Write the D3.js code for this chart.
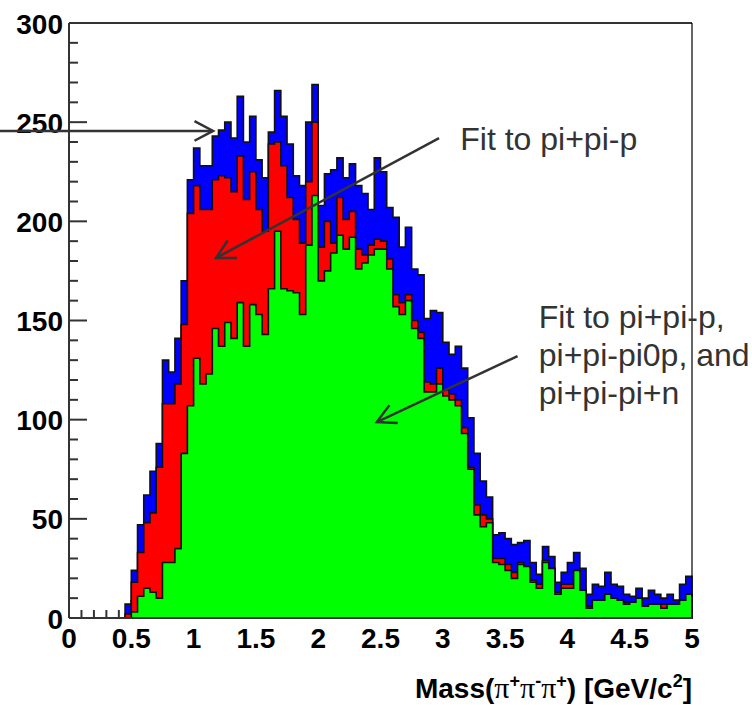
<!DOCTYPE html>
<html>
<head>
<meta charset="utf-8">
<script src="https://cdnjs.cloudflare.com/ajax/libs/d3/7.8.5/d3.min.js"></script>
<style>
  body { margin: 0; background: #fff; }
  svg { display: block; }
  text { font-family: "Liberation Sans", Arial, sans-serif; }
</style>
</head>
<body>
<div id="chart"></div>
<script>
// Chart size and frame
const width = 752;
const height = 705;
const frame = { left: 69, right: 692, top: 23, bottom: 618 };

// Histogram binning: 100 bins of 0.05 GeV/c2 from 0 to 5
const binWidth = 0.05;

// Counts per bin for each stacked component (bottom to top)
const greenCounts = [
  0, 0, 0, 0, 0, 0, 0, 0, 0, 0,
  3, 11, 15, 13, 10, 28, 28, 35, 83, 107,
  131, 118, 123, 146, 137, 149, 141, 159, 137, 158,
  153, 143, 166, 195, 166, 165, 164, 153, 188, 213,
  170, 175, 184, 193, 186, 192, 176, 179, 183, 186,
  186, 176, 157, 153, 160, 146, 141, 114, 114, 118,
  112, 110, 107, 93, 75, 52, 46, 48, 28, 27,
  24, 20, 27, 26, 18, 15, 28, 25, 12, 15,
  15, 24, 14, 5, 9, 9, 12, 10, 9, 7,
  8, 10, 6, 7, 7, 5, 7, 7, 9, 12
];
const redCounts = [
  0, 0, 0, 0, 0, 0, 0, 0, 0, 2,
  15, 22, 33, 40, 66, 80, 80, 83, 65, 97,
  87, 88, 83, 75, 86, 73, 74, 74, 74, 67,
  53, 52, 73, 45, 62, 47, 37, 36, 32, 37,
  17, 25, 5, 19, 15, 13, 10, 4, 5, 5,
  4, 5, 6, 6, 3, 4, 3, 5, 4, 8,
  3, 3, 3, 3, 1, 5, 6, 2, 2, 3,
  3, 3, 1, 0, 1, 2, 1, 0, 1, 2,
  2, 0, 0, 1, 0, 0, 0, 0, 0, 1,
  0, 0, 0, 0, 0, 2, 0, 0, 0, 0
];
const blueCounts = [
  0, 0, 0, 0, 0, 0, 0, 0, 0, 5,
  6, 14, 14, 21, 12, 22, 16, 23, 22, 17,
  19, 22, 22, 22, 23, 28, 27, 30, 29, 28,
  25, 27, 6, 26, 25, 27, 22, 29, 30, 19,
  21, 24, 37, 20, 21, 24, 32, 31, 18, 41,
  35, 26, 39, 28, 34, 26, 29, 32, 37, 28,
  24, 20, 27, 30, 25, 26, 17, 11, 12, 13,
  13, 14, 10, 13, 9, 5, 7, 6, 5, 6,
  11, 9, 11, 6, 8, 7, 11, 7, 7, 4,
  3, 5, 4, 7, 5, 3, 5, 2, 8, 9
];

const seriesKeys = ["green", "red", "blue"];
const seriesColors = { green: "#00ff00", red: "#ff0000", blue: "#0000ff" };

// Axes
const xDomain = [0, 5];
const yDomain = [0, 300];
const xMajorTicks = [0, 0.5, 1, 1.5, 2, 2.5, 3, 3.5, 4, 4.5, 5];
const xTickLabels = ["0", "0.5", "1", "1.5", "2", "2.5", "3", "3.5", "4", "4.5", "5"];
const yMajorTicks = [0, 50, 100, 150, 200, 250, 300];
const yTickLabels = ["0", "50", "100", "150", "200", "250", "300"];
const xMinorStep = 0.1;
const yMinorStep = 10;

// Annotations in data coordinates
const arrows = [
  { from: [-0.554, 245.6], to: [1.156, 245.6] },
  { from: [2.97, 242], to: [1.18, 181.5] },
  { from: [3.60, 132], to: [2.47, 98.8] }
];
const notes = [
  { x: 3.14, y: 236, lines: ["Fit to pi+pi-p"] },
  { x: 3.77, y: 146.2, lines: ["Fit to pi+pi-p,", "pi+pi-pi0p, and", "pi+pi-pi+n"] }
];

const x = d3.scaleLinear().domain(xDomain).range([frame.left, frame.right]);
const y = d3.scaleLinear().domain(yDomain).range([frame.bottom, frame.top]);

const svg = d3.select("#chart")
  .append("svg")
  .attr("width", width)
  .attr("height", height);

// tick marks (drawn under the histograms, as in the original)
const ticks = svg.append("g")
  .attr("stroke", "#333")
  .attr("stroke-width", 2);

const yMinor = d3.range(yDomain[0], yDomain[1] + 1, yMinorStep);
ticks.selectAll(".ytick")
  .data(yMinor)
  .enter()
  .append("line")
  .attr("x1", frame.left)
  .attr("x2", d => frame.left + (d % 50 === 0 ? 18 : 9))
  .attr("y1", d => y(d))
  .attr("y2", d => y(d));

const xMinor = d3.range(0, 51).map(i => i * xMinorStep);
ticks.selectAll(".xtick")
  .data(xMinor)
  .enter()
  .append("line")
  .attr("x1", d => x(d))
  .attr("x2", d => x(d))
  .attr("y1", frame.bottom)
  .attr("y2", (d, i) => frame.bottom - (i % 5 === 0 ? 18 : 8));

// stack the three components
const table = greenCounts.map((g, i) => ({
  x0: i * binWidth,
  green: g,
  red: redCounts[i],
  blue: blueCounts[i]
}));
const stacked = d3.stack().keys(seriesKeys)(table);

function stepPoints(layer) {
  const pts = [];
  layer.forEach(d => {
    pts.push([d.data.x0, d[1]]);
    pts.push([d.data.x0 + binWidth, d[1]]);
  });
  return pts;
}

const area = d3.area()
  .x(d => x(d[0]))
  .y0(y(0))
  .y1(d => y(d[1]));

// top of the stack first, then the lower sums over it
const hist = svg.append("g");
stacked.slice().reverse().forEach(layer => {
  hist.append("path")
    .datum(stepPoints(layer))
    .attr("d", area)
    .attr("fill", seriesColors[layer.key])
    .attr("stroke", "#111")
    .attr("stroke-width", 1.6)
    .attr("stroke-linejoin", "miter");
});

// frame
svg.append("line")
  .attr("x1", frame.left).attr("x2", frame.right)
  .attr("y1", frame.top).attr("y2", frame.top)
  .attr("stroke", "#333").attr("stroke-width", 2);
svg.append("line")
  .attr("x1", frame.right).attr("x2", frame.right)
  .attr("y1", frame.top).attr("y2", frame.bottom)
  .attr("stroke", "#000").attr("stroke-width", 1.2);
svg.append("line")
  .attr("x1", frame.left).attr("x2", frame.right)
  .attr("y1", frame.bottom).attr("y2", frame.bottom)
  .attr("stroke", "#333").attr("stroke-width", 2);
svg.append("line")
  .attr("x1", frame.left).attr("x2", frame.left)
  .attr("y1", frame.top).attr("y2", frame.bottom)
  .attr("stroke", "#333").attr("stroke-width", 2);

// tick labels
svg.selectAll(".ylabel")
  .data(yMajorTicks)
  .enter()
  .append("text")
  .attr("x", frame.left - 6)
  .attr("y", d => y(d) + 10.5)
  .attr("text-anchor", "end")
  .attr("font-size", "28px")
  .attr("font-weight", "bold")
  .attr("fill", "#000")
  .text((d, i) => yTickLabels[i]);

svg.selectAll(".xlabel")
  .data(xMajorTicks)
  .enter()
  .append("text")
  .attr("x", d => x(d))
  .attr("y", 648)
  .attr("text-anchor", "middle")
  .attr("font-size", "28px")
  .attr("font-weight", "bold")
  .attr("fill", "#000")
  .text((d, i) => xTickLabels[i]);

// x axis title
const title = svg.append("text")
  .attr("x", frame.right)
  .attr("y", 698)
  .attr("text-anchor", "end")
  .attr("font-size", "28px")
  .attr("font-weight", "bold")
  .attr("fill", "#000");
const pi = "\u03c0";
const titleParts = [
  { t: "Mass(" },
  { t: pi, greek: true }, { t: "+", sup: true },
  { t: pi, greek: true }, { t: "-", sup: true },
  { t: pi, greek: true }, { t: "+", sup: true },
  { t: ") [GeV/c" }, { t: "2", sup: true }, { t: "]" }
];
let raised = false;
titleParts.forEach(p => {
  const ts = title.append("tspan").text(p.t);
  if (p.greek) {
    ts.attr("font-family", "'Liberation Serif', 'DejaVu Serif', serif")
      .attr("font-weight", "normal")
      .attr("font-size", "30px");
  }
  if (p.sup) {
    ts.attr("font-size", "18px");
    if (!raised) { ts.attr("dy", -11); raised = true; }
  } else if (raised) {
    ts.attr("dy", 11);
    raised = false;
  }
});

// annotation arrows
const arrowLayer = svg.append("g")
  .attr("stroke", "#333")
  .attr("stroke-width", 2.5)
  .attr("fill", "none");

arrows.forEach(a => {
  const x1 = x(a.from[0]), y1 = y(a.from[1]);
  const x2 = x(a.to[0]), y2 = y(a.to[1]);
  arrowLayer.append("line")
    .attr("x1", x1).attr("y1", y1)
    .attr("x2", x2).attr("y2", y2);
  const ang = Math.atan2(y1 - y2, x1 - x2);
  const len = 21, spread = 28 * Math.PI / 180;
  const pA = [x2 + len * Math.cos(ang + spread), y2 + len * Math.sin(ang + spread)];
  const pB = [x2 + len * Math.cos(ang - spread), y2 + len * Math.sin(ang - spread)];
  arrowLayer.append("path")
    .attr("d", `M${pA[0]},${pA[1]}L${x2},${y2}L${pB[0]},${pB[1]}`);
});

// annotation texts
notes.forEach(n => {
  const t = svg.append("text")
    .attr("x", x(n.x))
    .attr("y", y(n.y))
    .attr("font-size", "32px")
    .attr("fill", "#333");
  n.lines.forEach((line, i) => {
    t.append("tspan")
      .attr("x", x(n.x))
      .attr("dy", i === 0 ? 0 : 38)
      .text(line);
  });
});
</script>
</body>
</html>
